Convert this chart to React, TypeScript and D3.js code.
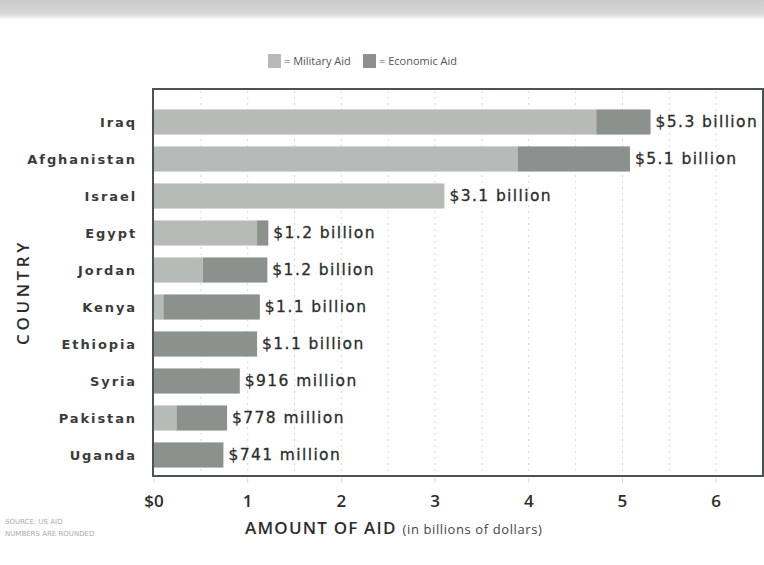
import React from "react";
import * as d3 from "d3";

const categories = ["Iraq", "Afghanistan", "Israel", "Egypt", "Jordan", "Kenya", "Ethiopia", "Syria", "Pakistan", "Uganda"];
const militaryAid = [4.72, 3.88, 3.1, 1.1, 0.52, 0.1, 0.0, 0.0, 0.24, 0.0];
const economicAid = [0.58, 1.2, 0.0, 0.12, 0.69, 1.03, 1.1, 0.916, 0.54, 0.741];
const totalLabels = ["$5.3 billion", "$5.1 billion", "$3.1 billion", "$1.2 billion", "$1.2 billion", "$1.1 billion", "$1.1 billion", "$916 million", "$778 million", "$741 million"];
const tickValues = [0, 1, 2, 3, 4, 5, 6];
const tickLabels = ["$0", "1", "2", "3", "4", "5", "6"];
const gridValues = [0.5, 1, 1.5, 2, 2.5, 3, 3.5, 4, 4.5, 5, 5.5, 6];
const legendItems = ["= Military Aid", "= Economic Aid"];

const W = 764;
const H = 565;
const box = { left: 153, top: 89, right: 763, bottom: 476 };
const MIL = "#b7bbb8";
const ECO = "#8b928d";
const TXT = "#2b2d2c";

export default function App() {
  const x = d3.scaleLinear().domain([0, 6.5]).range([box.left + 1, box.right]);
  const y = d3.scaleBand<string>().domain(categories).range([103.5, 473.5]).paddingInner(0.32).paddingOuter(0.16);
  const bw = y.bandwidth();
  const stacked = categories.map((c, i) => ({
    c,
    m: militaryAid[i],
    e: economicAid[i],
    label: totalLabels[i],
  }));

  return (
    <svg width={W} height={H} style={{ position: "absolute", left: 0, top: 0, background: "#ffffff" }}>
      <defs>
        <linearGradient id="topband" x1="0" y1="0" x2="0" y2="1">
          <stop offset="0" stopColor="#cbcbcb" />
          <stop offset="0.7" stopColor="#d8d8d8" />
          <stop offset="1" stopColor="#ffffff" />
        </linearGradient>
      </defs>
      <rect x={0} y={0} width={W} height={20} fill="url(#topband)" />

      {/* legend */}
      <g fontFamily="'Open Sans', sans-serif" fontSize={11} fill="#555">
        <rect x={268} y={54} width={13} height={14} fill={MIL} />
        <text x={284} y={65}>{legendItems[0]}</text>
        <rect x={363} y={54} width={13} height={14} fill={ECO} />
        <text x={379} y={65}>{legendItems[1]}</text>
      </g>

      {/* grid */}
      {gridValues.map((g) => (
        <line key={g} x1={x(g)} x2={x(g)} y1={box.top + 2} y2={box.bottom} stroke="#d6d8d7" strokeWidth={1} strokeDasharray="2,4" />
      ))}

      {/* bars */}
      {stacked.map((d) => {
        const yy = y(d.c)!;
        return (
          <g key={d.c}>
            {d.m > 0 && <rect x={x(0)} y={yy} width={x(d.m) - x(0)} height={bw} fill={MIL} />}
            {d.e > 0 && <rect x={x(d.m)} y={yy} width={x(d.m + d.e) - x(d.m)} height={bw} fill={ECO} />}
            <text
              x={x(d.m + d.e) + 5}
              y={yy + bw / 2}
              dy="0.35em"
              fontFamily="'DejaVu Sans', sans-serif"
              fontSize={15.5}
              fill={TXT}
              letterSpacing={1.4}
              stroke={TXT}
              strokeWidth={0.3}
            >
              {d.label}
            </text>
            <text
              x={137}
              y={yy + bw / 2}
              dy="0.35em"
              textAnchor="end"
              fontFamily="'DejaVu Sans', sans-serif"
              fontWeight="bold"
              fontSize={13}
              letterSpacing={1.9}
              fill="#3a3c3b"
            >
              {d.c}
            </text>
          </g>
        );
      })}

      {/* box */}
      <rect x={box.left} y={box.top} width={box.right - box.left} height={box.bottom - box.top} fill="none" stroke="#4a5450" strokeWidth={2} />

      {/* x tick labels */}
      {tickValues.map((t, i) => (
        <g key={t}>
          <line x1={x(t)} x2={x(t)} y1={box.bottom + 2} y2={box.bottom + 7} stroke="#d8d8d8" />
          <text
            x={x(t)}
            y={501}
            dy="0.35em"
            textAnchor="middle"
            fontFamily="'Open Sans', sans-serif"
            fontWeight={600}
            fontSize={17}
            fill={TXT}
          >
            {tickLabels[i]}
          </text>
        </g>
      ))}

      {/* axis titles */}
      <text x={245} y={534} fontFamily="'Open Sans', sans-serif" fill={TXT}>
        <tspan fontSize={17} fontWeight={600} letterSpacing={1.2}>AMOUNT OF AID</tspan>
        <tspan fontSize={13} fill="#444" dx={6} letterSpacing={0.6}>(in billions of dollars)</tspan>
      </text>
      <text
        transform="translate(29,292) rotate(-90)"
        textAnchor="middle"
        fontFamily="'Open Sans', sans-serif"
        fontWeight={600}
        fontSize={17}
        letterSpacing={3.6}
        fill={TXT}
      >
        COUNTRY
      </text>

      {/* source */}
      <g fontFamily="'DejaVu Sans', sans-serif" fontSize={7} fill="#ababab">
        <text x={5} y={524}>SOURCE: US AID</text>
        <text x={5} y={536}>NUMBERS ARE ROUNDED</text>
      </g>
    </svg>
  );
}
